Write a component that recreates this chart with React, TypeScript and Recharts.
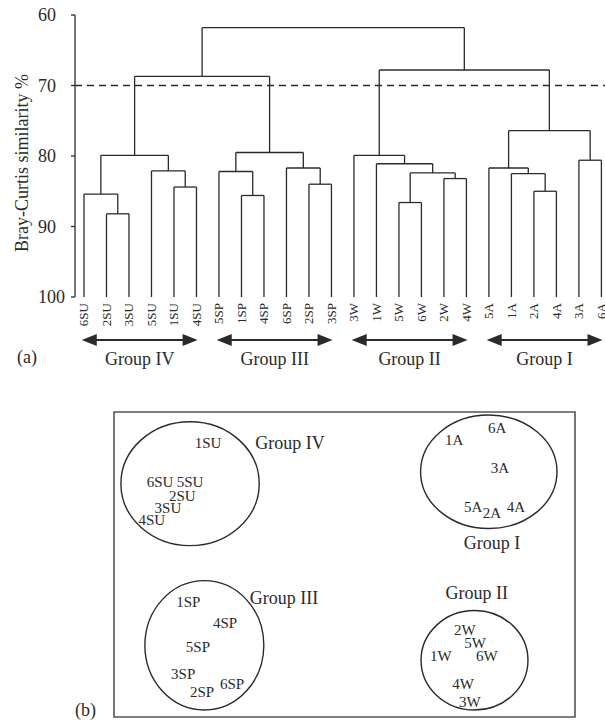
import React from 'react';
import {
  ComposedChart,
  ScatterChart,
  Scatter,
  XAxis,
  YAxis,
  ReferenceLine,
  ReferenceArea,
} from 'recharts';

// (a) dendrogram: leaf order and merges [left, right, similarity %]
// ids 0..23 are leaves, id 24 + k is the k-th merge
const leafLabels = [
  '6SU', '2SU', '3SU', '5SU', '1SU', '4SU',
  '5SP', '1SP', '4SP', '6SP', '2SP', '3SP',
  '3W', '1W', '5W', '6W', '2W', '4W',
  '5A', '1A', '2A', '4A', '3A', '6A',
];
const merges: [number, number, number][] = [
  [1, 2, 88.2], // 24
  [0, 24, 85.4], // 25
  [4, 5, 84.4], // 26
  [3, 26, 82.1], // 27
  [25, 27, 79.9], // 28
  [7, 8, 85.6], // 29
  [6, 29, 82.2], // 30
  [10, 11, 84.0], // 31
  [9, 31, 81.7], // 32
  [30, 32, 79.5], // 33
  [28, 33, 68.7], // 34
  [14, 15, 86.6], // 35
  [16, 17, 83.2], // 36
  [35, 36, 82.4], // 37
  [13, 37, 81.1], // 38
  [12, 38, 79.9], // 39
  [20, 21, 85.0], // 40
  [19, 40, 82.5], // 41
  [18, 41, 81.7], // 42
  [22, 23, 80.6], // 43
  [42, 43, 76.4], // 44
  [39, 44, 67.8], // 45
  [34, 45, 61.8], // 46
];
const cutLevel = 70;
const simTicks = [60, 70, 80, 90, 100];

const groupNames = ['Group IV', 'Group III', 'Group II', 'Group I'];
const groupFirst = [0, 6, 12, 18];
const groupLast = [5, 11, 17, 23];

// (b) ordination
const ordLabels = [
  '1SU', '6SU', '5SU', '2SU', '3SU', '4SU',
  '1SP', '4SP', '5SP', '3SP', '2SP', '6SP',
  '6A', '1A', '3A', '5A', '2A', '4A',
  '2W', '5W', '1W', '6W', '4W', '3W',
];
const ordX = [
  20.4, 10.0, 16.5, 14.8, 11.7, 8.2,
  16.1, 24.1, 18.2, 15.0, 19.1, 25.6,
  83.1, 73.8, 83.7, 77.9, 82.0, 87.2,
  76.1, 78.3, 70.9, 80.9, 75.7, 77.2,
];
const ordY = [
  89.9, 77.1, 77.1, 72.5, 68.6, 64.7,
  37.6, 30.7, 22.9, 14.1, 8.2, 10.8,
  94.8, 90.8, 81.7, 69.0, 67.0, 69.0,
  28.4, 24.2, 19.9, 19.9, 10.8, 4.9,
];
// group outlines (centre, radii) and group label positions
const hullX = [16.5, 19.6, 81.3, 78.2];
const hullY = [76.5, 23.5, 80.4, 18.6];
const hullRx = [15.0, 12.9, 14.8, 11.6];
const hullRy = [20.3, 21.2, 18.6, 16.3];
const hullLabelX = [38.2, 36.9, 82.0, 78.7];
const hullLabelY = [89.9, 38.9, 57.2, 40.5];
const hullNames = ['Group IV', 'Group III', 'Group I', 'Group II'];

const INK = '#2a2a2a';
const leafIndex = leafLabels.map((_, i) => i);

// build link segments from the merge list
const nodeX: number[] = [...leafIndex];
const nodeH: number[] = leafLabels.map(() => 100);
const links: { x1: number; y1: number; x2: number; y2: number }[] = [];
merges.forEach(([a, b, h]) => {
  links.push({ x1: nodeX[a], y1: nodeH[a], x2: nodeX[a], y2: h });
  links.push({ x1: nodeX[b], y1: nodeH[b], x2: nodeX[b], y2: h });
  links.push({ x1: nodeX[a], y1: h, x2: nodeX[b], y2: h });
  nodeX.push((nodeX[a] + nodeX[b]) / 2);
  nodeH.push(h);
});

const leafData = leafIndex.map((i) => ({ x: i, y: 100 }));
const ordData = ordLabels.map((name, i) => ({ x: ordX[i], y: ordY[i], name }));
const hullLabelData = hullNames.map((name, i) => ({ x: hullLabelX[i], y: hullLabelY[i], name }));

const YTick = (p: any) => (
  <text x={p.x - 31} y={p.y} textAnchor="start" dominantBaseline="central" fontSize={18} fill={INK}>
    {p.payload.value}
  </text>
);

const LeafTick = (p: any) => (
  <text
    x={p.x}
    y={p.y}
    transform={`rotate(-90 ${p.x} ${p.y})`}
    textAnchor="end"
    dominantBaseline="central"
    fontSize={13}
    fill={INK}
  >
    {leafLabels[p.payload.value]}
  </text>
);

const arrowShape = (name: string) => (p: any) => {
  const { x1, x2, y1 } = p;
  const head = 15;
  const half = 6;
  return (
    <g>
      <line x1={x1 + head - 2} y1={y1} x2={x2 - head + 2} y2={y1} stroke={INK} strokeWidth={2} />
      <polygon points={`${x1},${y1} ${x1 + head},${y1 - half} ${x1 + head},${y1 + half}`} fill={INK} />
      <polygon points={`${x2},${y1} ${x2 - head},${y1 - half} ${x2 - head},${y1 + half}`} fill={INK} />
      <text x={(x1 + x2) / 2} y={y1 + 19} textAnchor="middle" dominantBaseline="central" fontSize={18} fill={INK}>
        {name}
      </text>
    </g>
  );
};

const TextPoint = (size: number) => (p: any) => (
  <text x={p.cx} y={p.cy} textAnchor="middle" dominantBaseline="central" fontSize={size} fill={INK}>
    {p.payload.name}
  </text>
);

const ellipseShape = (p: any) => (
  <ellipse
    cx={p.x + p.width / 2}
    cy={p.y + p.height / 2}
    rx={Math.abs(p.width) / 2}
    ry={Math.abs(p.height) / 2}
    fill="none"
    stroke={INK}
    strokeWidth={1.4}
  />
);

export default function App() {
  return (
    <div
      style={{
        position: 'absolute',
        left: 0,
        top: 0,
        width: 605,
        height: 722,
        background: '#fff',
        fontFamily: '"Liberation Serif", "Times New Roman", serif',
        color: INK,
        overflow: 'hidden',
      }}
    >
      <div style={{ position: 'absolute', left: 0, top: 0 }}>
        <ComposedChart width={605} height={375} data={leafData} margin={{ top: 15, right: 0, bottom: 0, left: 0 }}>
          <XAxis
            type="number"
            dataKey="x"
            domain={[-0.4, 23.16]}
            allowDataOverflow
            ticks={leafIndex}
            interval={0}
            axisLine={false}
            tickLine={false}
            tickSize={0}
            tickMargin={6}
            height={78}
            tick={LeafTick}
          />
          <YAxis
            type="number"
            dataKey="y"
            domain={[60, 100]}
            allowDataOverflow
            reversed
            ticks={simTicks}
            interval={0}
            width={75}
            tickSize={4}
            axisLine={{ stroke: INK, strokeWidth: 1.3 }}
            tickLine={{ stroke: INK, strokeWidth: 1.3 }}
            tick={YTick}
            label={{
              position: 'insideLeft',
              content: ({ viewBox }: any) => {
                const cx = viewBox.x + 22;
                const cy = viewBox.y + viewBox.height / 2 + 7;
                return (
                  <text
                    x={cx}
                    y={cy}
                    transform={`rotate(-90 ${cx} ${cy})`}
                    textAnchor="middle"
                    dominantBaseline="central"
                    fontSize={18}
                    fill={INK}
                  >
                    Bray-Curtis similarity %
                  </text>
                );
              },
            }}
          />
          <ReferenceLine y={cutLevel} stroke={INK} strokeWidth={1.3} strokeDasharray="7 5" />
          {links.map((s, i) => (
            <ReferenceLine
              key={i}
              segment={[
                { x: s.x1, y: s.y1 },
                { x: s.x2, y: s.y2 },
              ]}
              stroke={INK}
              strokeWidth={1.3}
              ifOverflow="visible"
            />
          ))}
          {groupNames.map((name, i) => (
            <ReferenceLine
              key={name}
              segment={[
                { x: groupFirst[i] - 0.1, y: 106.1 },
                { x: groupLast[i] + 0.05, y: 106.1 },
              ]}
              ifOverflow="visible"
              shape={arrowShape(name)}
            />
          ))}
        </ComposedChart>
      </div>
      <div style={{ position: 'absolute', left: 17, top: 346, fontSize: 18, lineHeight: '22px' }}>(a)</div>

      <div style={{ position: 'absolute', left: 0, top: 400 }}>
        <ScatterChart width={605} height={322} margin={{ top: 12, right: 30, bottom: 5, left: 114 }}>
          <XAxis type="number" dataKey="x" domain={[0, 100]} allowDataOverflow hide />
          <YAxis type="number" dataKey="y" domain={[0, 100]} allowDataOverflow hide />
          <ReferenceArea x1={0} x2={100} y1={0} y2={100} fill="none" stroke="#555" strokeWidth={1.6} ifOverflow="visible" />
          {hullX.map((cx, i) => (
            <ReferenceArea
              key={i}
              x1={cx - hullRx[i]}
              x2={cx + hullRx[i]}
              y1={hullY[i] - hullRy[i]}
              y2={hullY[i] + hullRy[i]}
              ifOverflow="visible"
              shape={ellipseShape}
            />
          ))}
          <Scatter data={ordData} isAnimationActive={false} shape={TextPoint(15)} />
          <Scatter data={hullLabelData} isAnimationActive={false} shape={TextPoint(18)} />
        </ScatterChart>
      </div>
      <div style={{ position: 'absolute', left: 75, top: 699, fontSize: 18, lineHeight: '22px' }}>(b)</div>
    </div>
  );
}
